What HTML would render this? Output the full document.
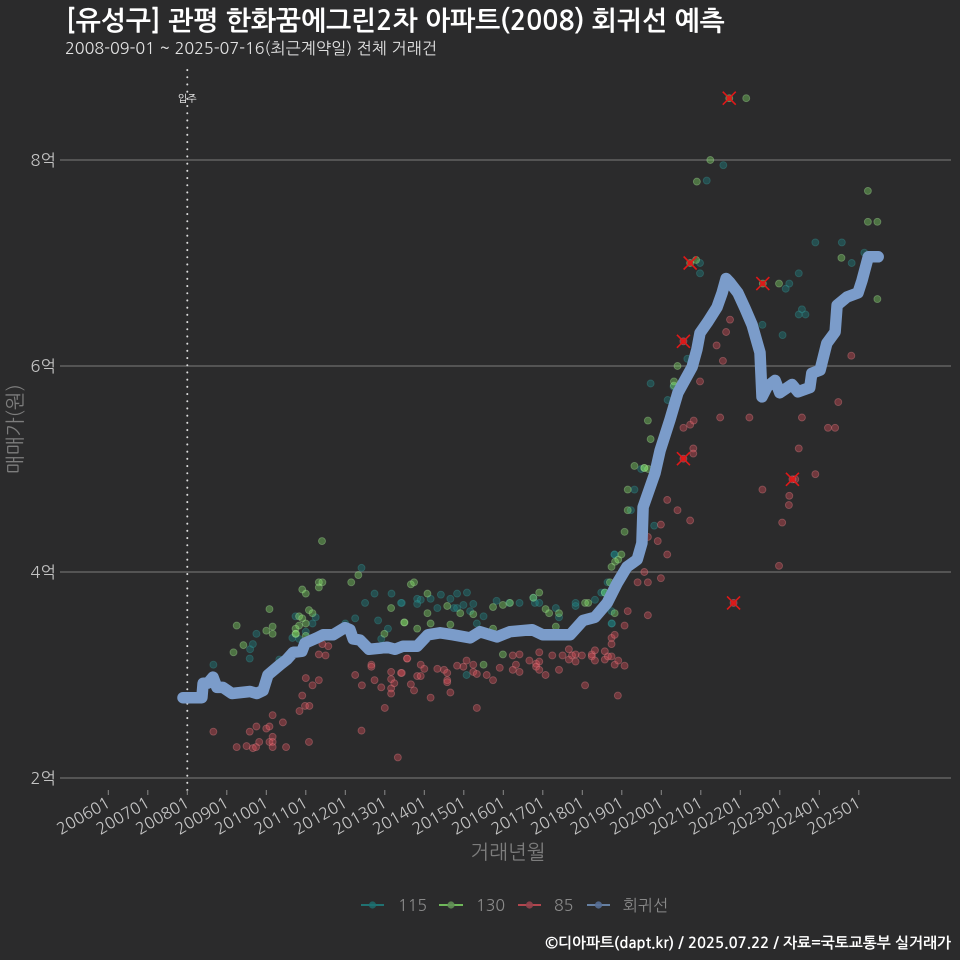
<!DOCTYPE html>
<html lang="ko">
<head>
<meta charset="utf-8">
<title>유성구 관평 한화꿈에그린2차 회귀선 예측</title>
<style>
html,body{margin:0;padding:0;background:#2b2b2c;width:960px;height:960px;overflow:hidden}
svg{display:block}
text{font-family:"NanumGothic","Noto Sans CJK KR","Liberation Sans",sans-serif}
</style>
</head>
<body>
<svg id="chart" xmlns="http://www.w3.org/2000/svg" width="960" height="960" viewBox="0 0 960 960">
<rect width="960" height="960" fill="#2b2b2c"/>
<text x="66" y="30" font-size="26.7" font-weight="700" fill="#ffffff">[유성구] 관평 한화꿈에그린2차 아파트(2008) 회귀선 예측</text>
<text x="65" y="54" font-size="16.15" fill="#e2e2e2">2008-09-01 ~ 2025-07-16(최근계약일) 전체 거래건</text>
<g id="grid"></g>
<g id="vline"></g>
<g id="points"></g>
<g id="regression"></g>
<g id="crosses"></g>
<g id="axes"></g>
<text transform="translate(22,429) rotate(-90)" text-anchor="middle" font-size="20" fill="#7d7d7d">매매가(원)</text>
<text x="508" y="859" text-anchor="middle" font-size="20" fill="#7d7d7d">거래년월</text>
<g>
  <g>
    <line x1="361" x2="384" y1="905" y2="905" stroke="#1d8a8a" stroke-width="1.6"/>
    <circle cx="372.5" cy="905" r="3.6" fill="#1d6f70" fill-opacity=".8"/>
    <text x="398" y="911" font-size="16" fill="#8a8a8a">115</text>
  </g>
  <g>
    <line x1="439" x2="463" y1="905" y2="905" stroke="#86e86a" stroke-width="1.6"/>
    <circle cx="451" cy="905" r="3.6" fill="#628f55" fill-opacity=".9"/>
    <text x="476" y="911" font-size="16" fill="#8a8a8a">130</text>
  </g>
  <g>
    <line x1="518" x2="541" y1="905" y2="905" stroke="#e0505a" stroke-width="1.6"/>
    <circle cx="529.5" cy="905" r="3.6" fill="#96424c" fill-opacity=".9"/>
    <text x="554" y="911" font-size="16" fill="#8a8a8a">85</text>
  </g>
  <g>
    <line x1="587" x2="610" y1="905" y2="905" stroke="#7b9cca" stroke-width="1.6"/>
    <circle cx="598.5" cy="905" r="3.6" fill="#566f96" fill-opacity=".9"/>
    <text x="623" y="911" font-size="16" fill="#8a8a8a">회귀선</text>
  </g>
</g>
<text x="951" y="948" text-anchor="end" font-size="14.9" font-weight="700" fill="#ffffff">©디아파트(dapt.kr) / 2025.07.22 / 자료=국토교통부 실거래가</text>
</svg>
<script>
const xTickYears = [2006,2007,2008,2009,2010,2011,2012,2013,2014,2015,2016,2017,2018,2019,2020,2021,2022,2023,2024,2025];
const xTickLabels = ["200601","200701","200801","200901","201001","201101","201201","201301","201401","201501","201601","201701","201801","201901","202001","202101","202201","202301","202401","202501"];
const yTickValues = [2,4,6,8];
const yTickLabels = ["2억","4억","6억","8억"];
const moveInYear = [2008];
const moveInLabel = ["입주"];

const years85 = [2008.66,2009.25,2009.50,2009.66,2009.74,2009.82,2009.58,2009.75,2010.00,2010.08,2010.16,2010.42,2010.08,2010.16,2010.16,2010.16,2010.50,2011.08,2010.84,2010.98,2011.09,2010.91,2011.17,2011.33,2011.00,2011.33,2011.50,2011.42,2011.57,2012.25,2012.42,2012.41,2012.66,2012.66,2012.74,2012.91,2013.00,2013.16,2013.16,2013.16,2013.16,2013.24,2013.41,2013.33,2013.56,2013.57,2013.43,2013.91,2014.00,2013.82,2013.91,2013.66,2013.74,2014.16,2014.33,2014.50,2014.58,2014.58,2014.58,2014.66,2014.83,2014.99,2015.07,2015.24,2015.24,2015.33,2015.33,2015.58,2015.74,2015.91,2016.24,2016.41,2016.32,2016.24,2016.41,2016.66,2016.83,2016.91,2016.91,2016.83,2016.91,2017.07,2017.24,2017.41,2017.50,2017.66,2017.66,2017.74,2017.83,2017.83,2017.99,2018.07,2018.24,2018.24,2018.32,2018.32,2018.57,2018.57,2018.65,2018.74,2018.82,2018.91,2019.07,2018.90,2018.74,2018.74,2018.82,2019.07,2019.15,2019.40,2019.66,2019.66,2019.57,2019.99,2019.66,2019.91,2020.15,2019.99,2020.15,2020.41,2020.73,2020.56,2020.81,2020.81,2020.56,2020.73,2020.82,2020.98,2021.40,2021.56,2021.64,2021.49,2022.23,2023.56,2023.48,2022.56,2023.24,2023.23,2023.06,2022.98,2023.39,2023.32,2023.90,2024.22,2024.40,2024.48,2024.81,2021.83,2020.56,2021.74];
const prices85 = [2.45,2.30,2.31,2.29,2.30,2.35,2.45,2.50,2.48,2.50,2.61,2.54,2.35,2.40,2.35,2.30,2.30,2.35,2.65,2.70,2.70,2.80,2.90,2.95,2.97,3.20,3.19,3.30,3.28,3.00,2.90,2.46,3.10,3.08,2.95,2.88,2.68,3.03,2.96,2.87,2.82,2.92,3.02,2.20,3.16,3.16,3.02,3.10,3.06,2.99,2.99,2.91,2.85,2.78,3.06,3.05,3.02,2.95,2.93,2.83,3.09,3.08,3.14,3.10,3.03,3.01,2.68,3.00,2.95,3.07,3.19,3.20,3.10,3.05,3.03,3.14,3.11,3.22,3.13,3.08,3.05,3.00,3.19,3.05,3.19,3.25,3.15,3.19,3.20,3.13,3.19,2.90,3.20,3.18,3.24,3.14,3.23,3.15,3.18,3.18,3.10,3.14,3.09,2.80,3.30,3.36,3.39,3.48,3.62,3.90,3.58,3.90,4.00,3.94,4.34,4.30,4.17,4.46,4.70,4.60,4.50,5.10,5.20,5.15,5.40,5.43,5.47,5.85,6.20,6.05,6.33,5.50,5.50,5.50,5.20,4.80,4.74,4.65,4.48,4.06,4.90,4.90,4.95,5.40,5.40,5.65,6.10,3.70,6.24,6.45];

const years130 = [2011.41,2009.25,2009.17,2009.42,2010.08,2010.00,2010.16,2010.16,2010.91,2011.00,2011.33,2011.42,2011.33,2011.08,2011.17,2010.83,2010.91,2011.00,2010.83,2010.74,2010.74,2010.75,2011.00,2012.15,2012.33,2013.16,2012.99,2013.50,2013.66,2013.74,2013.49,2014.08,2014.08,2013.82,2014.16,2014.58,2014.66,2014.91,2015.24,2015.74,2015.99,2015.74,2015.99,2015.50,2016.17,2016.76,2016.91,2017.07,2017.16,2017.41,2017.33,2018.07,2018.15,2018.57,2018.70,2018.82,2018.74,2018.83,2018.91,2018.99,2019.07,2019.15,2019.15,2019.32,2019.57,2019.57,2019.67,2019.73,2019.66,2020.32,2020.32,2020.41,2022.15,2021.72,2021.24,2020.90,2025.23,2025.23,2025.47,2024.56,2025.47,2022.98,2022.57,2020.73,2020.88];
const prices130 = [4.30,3.48,3.22,3.29,3.64,3.43,3.47,3.40,3.83,3.79,3.90,3.90,3.85,3.63,3.60,3.57,3.55,3.50,3.48,3.45,3.40,3.40,3.38,3.90,3.97,3.65,3.40,3.51,3.88,3.90,3.51,3.79,3.60,3.45,3.50,3.67,3.49,3.60,3.59,3.66,3.68,3.45,3.20,3.10,3.70,3.75,3.80,3.64,3.60,3.60,3.47,3.70,3.70,3.80,3.90,3.60,4.05,4.10,4.12,4.17,4.39,4.60,4.80,5.03,5.01,5.01,5.00,5.29,5.47,5.85,5.81,6.00,8.60,8.60,8.00,7.79,7.70,7.40,7.40,7.05,6.65,6.80,6.80,7.00,7.03];

const years115 = [2021.57,2021.15,2020.98,2020.98,2023.90,2024.57,2025.14,2024.82,2023.48,2023.24,2023.15,2023.56,2023.48,2023.65,2022.56,2023.07,2020.66,2019.73,2020.31,2020.16,2019.49,2019.32,2019.23,2019.82,2018.81,2018.64,2018.57,2018.75,2013.43,2013.82,2013.91,2013.82,2014.16,2014.33,2014.42,2014.66,2014.83,2015.08,2014.75,2014.83,2014.99,2015.16,2015.24,2015.50,2015.33,2015.83,2016.15,2016.41,2016.76,2016.80,2016.91,2017.33,2017.41,2017.83,2017.83,2018.32,2018.48,2018.57,2018.82,2018.74,2018.74,2015.07,2008.66,2009.58,2009.59,2009.66,2009.75,2010.33,2010.74,2011.00,2011.25,2011.17,2010.66,2010.83,2012.00,2012.25,2012.41,2012.50,2012.74,2012.83,2012.91,2013.08,2013.17,2013.41];
const prices115 = [7.95,7.80,7.00,6.90,7.20,7.20,7.10,7.00,6.90,6.80,6.75,6.55,6.50,6.50,6.40,6.30,6.07,5.83,5.80,5.67,5.00,4.80,4.60,4.45,4.17,3.90,3.80,3.50,3.70,3.74,3.73,3.69,3.74,3.65,3.78,3.74,3.79,3.80,3.65,3.65,3.68,3.62,3.69,3.57,3.50,3.72,3.70,3.70,3.75,3.70,3.70,3.65,3.56,3.67,3.70,3.73,3.80,3.80,4.17,3.50,3.62,3.00,3.10,3.16,3.25,3.30,3.40,3.15,3.57,3.42,3.56,3.50,3.36,3.35,3.50,3.55,4.04,3.70,3.79,3.53,3.35,3.45,3.79,3.70];

const regressionYears = [2007.89,2008.37,2008.40,2008.52,2008.65,2008.75,2008.90,2009.13,2009.59,2009.76,2009.92,2010.04,2010.35,2010.52,2010.68,2010.90,2010.98,2011.28,2011.44,2011.69,2011.99,2012.12,2012.20,2012.37,2012.60,2012.88,2013.06,2013.26,2013.46,2013.82,2014.09,2014.40,2014.73,2015.16,2015.41,2015.84,2016.17,2016.73,2017.00,2017.69,2018.02,2018.32,2018.63,2018.88,2019.13,2019.39,2019.51,2019.54,2019.84,2019.97,2020.22,2020.42,2020.78,2020.90,2020.98,2021.18,2021.41,2021.54,2021.64,2021.74,2021.94,2022.12,2022.30,2022.50,2022.55,2022.68,2022.88,2023.00,2023.31,2023.46,2023.76,2023.81,2024.02,2024.19,2024.40,2024.45,2024.70,2024.98,2025.08,2025.24,2025.49];
const regressionPrices = [2.78,2.78,2.92,2.92,2.98,2.88,2.88,2.82,2.84,2.82,2.85,3.00,3.10,3.15,3.22,3.23,3.31,3.36,3.39,3.39,3.46,3.44,3.35,3.34,3.25,3.26,3.27,3.25,3.28,3.28,3.39,3.41,3.39,3.36,3.42,3.37,3.42,3.44,3.39,3.39,3.53,3.56,3.70,3.89,4.05,4.12,4.28,4.63,4.96,5.18,5.48,5.74,5.99,6.16,6.32,6.43,6.57,6.71,6.85,6.81,6.71,6.56,6.40,6.13,5.70,5.80,5.86,5.74,5.82,5.75,5.79,5.93,5.96,6.22,6.33,6.59,6.67,6.71,6.83,7.06,7.06];

const crossYears = [2021.72,2020.73,2022.57,2020.56,2020.56,2021.83,2023.32];
const crossPrices = [8.60,7.00,6.80,6.24,5.10,3.70,4.90];

const NS = 'http://www.w3.org/2000/svg';
function xScale(year){ return 108.3 + (year - 2006) * 39.5; }
function yScale(price){ return 778 - (price - 2) * 103; }
function make(tag, attrs, parent){
  const el = document.createElementNS(NS, tag);
  for (const k in attrs) el.setAttribute(k, attrs[k]);
  parent.appendChild(el);
  return el;
}
const gridG = document.getElementById('grid');
const axesG = document.getElementById('axes');
const vlineG = document.getElementById('vline');
const pointsG = document.getElementById('points');
const regG = document.getElementById('regression');
const crossG = document.getElementById('crosses');

yTickValues.forEach(function(v, i){
  const y = yScale(v);
  const grid = make('line', {x1:60, x2:951, y1:y, y2:y, stroke:'#626262', 'stroke-width':1.5}, gridG);
  
  
  const label = make('text', {x:56, y:y+6, 'text-anchor':'end', 'font-size':16.5, fill:'#c4c4c4'}, axesG);
  
  
  label.textContent = yTickLabels[i];
});
xTickYears.forEach(function(yr, i){
  const x = xScale(yr);
  const tick = make('line', {x1:x, x2:x, y1:790, y2:795, stroke:'#8a8a8a', 'stroke-width':1}, axesG);
  
  
  const label = make('text', {transform:'translate(' + (x+3) + ',806) rotate(-30)', 'text-anchor':'end', 'font-size':16, fill:'#c4c4c4'}, axesG);
  
  
  label.textContent = xTickLabels[i];
});

const moveX = xScale(moveInYear[0]);
const moveLine = make('line', {x1:moveX, x2:moveX, y1:70, y2:792, stroke:'#dcdcdc', 'stroke-width':2, 'stroke-linecap':'round', 'stroke-dasharray':'0.1 7.1'}, vlineG);


const moveLabel = make('text', {x:moveX, y:102, 'text-anchor':'middle', 'font-size':10, fill:'#ffffff'}, vlineG);


moveLabel.textContent = moveInLabel[0];

function drawSeries(years, prices, fill, stroke, name){
  years.forEach(function(yr, i){
    const c = make('circle', {cx:xScale(yr), cy:yScale(prices[i]), r:3.5, fill:fill, 'fill-opacity':0.38, stroke:stroke, 'stroke-opacity':0.35, 'stroke-width':0.9}, pointsG);
    
    
  });
}
drawSeries(years115, prices115, '#1d8a8a', '#3a9a9a', 'point-115');
drawSeries(years130, prices130, '#86e86a', '#b0e8a0', 'point-130');
drawSeries(years85, prices85, '#e0505a', '#f08a90', 'point-85');

const regPts = regressionYears.map(function(yr, i){ return xScale(yr).toFixed(1) + ',' + yScale(regressionPrices[i]).toFixed(1); }).join(' ');
const regLine = make('polyline', {points:regPts, fill:'none', stroke:'#7b9cca', 'stroke-width':11.5, 'stroke-linejoin':'round', 'stroke-linecap':'round'}, regG);



crossYears.forEach(function(yr, i){
  const x = xScale(yr), y = yScale(crossPrices[i]);
  const dot = make('circle', {cx:x, cy:y, r:2.8, fill:'#e01818', 'fill-opacity':0.8}, crossG);
  
  
  const p = make('path', {d:'M'+(x-6.5)+' '+(y-6.5)+'L'+(x+6.5)+' '+(y+6.5)+'M'+(x-6.5)+' '+(y+6.5)+'L'+(x+6.5)+' '+(y-6.5), stroke:'#e01818', 'stroke-width':1.6, fill:'none'}, crossG);
  
  
});
</script>
</body>
</html>
